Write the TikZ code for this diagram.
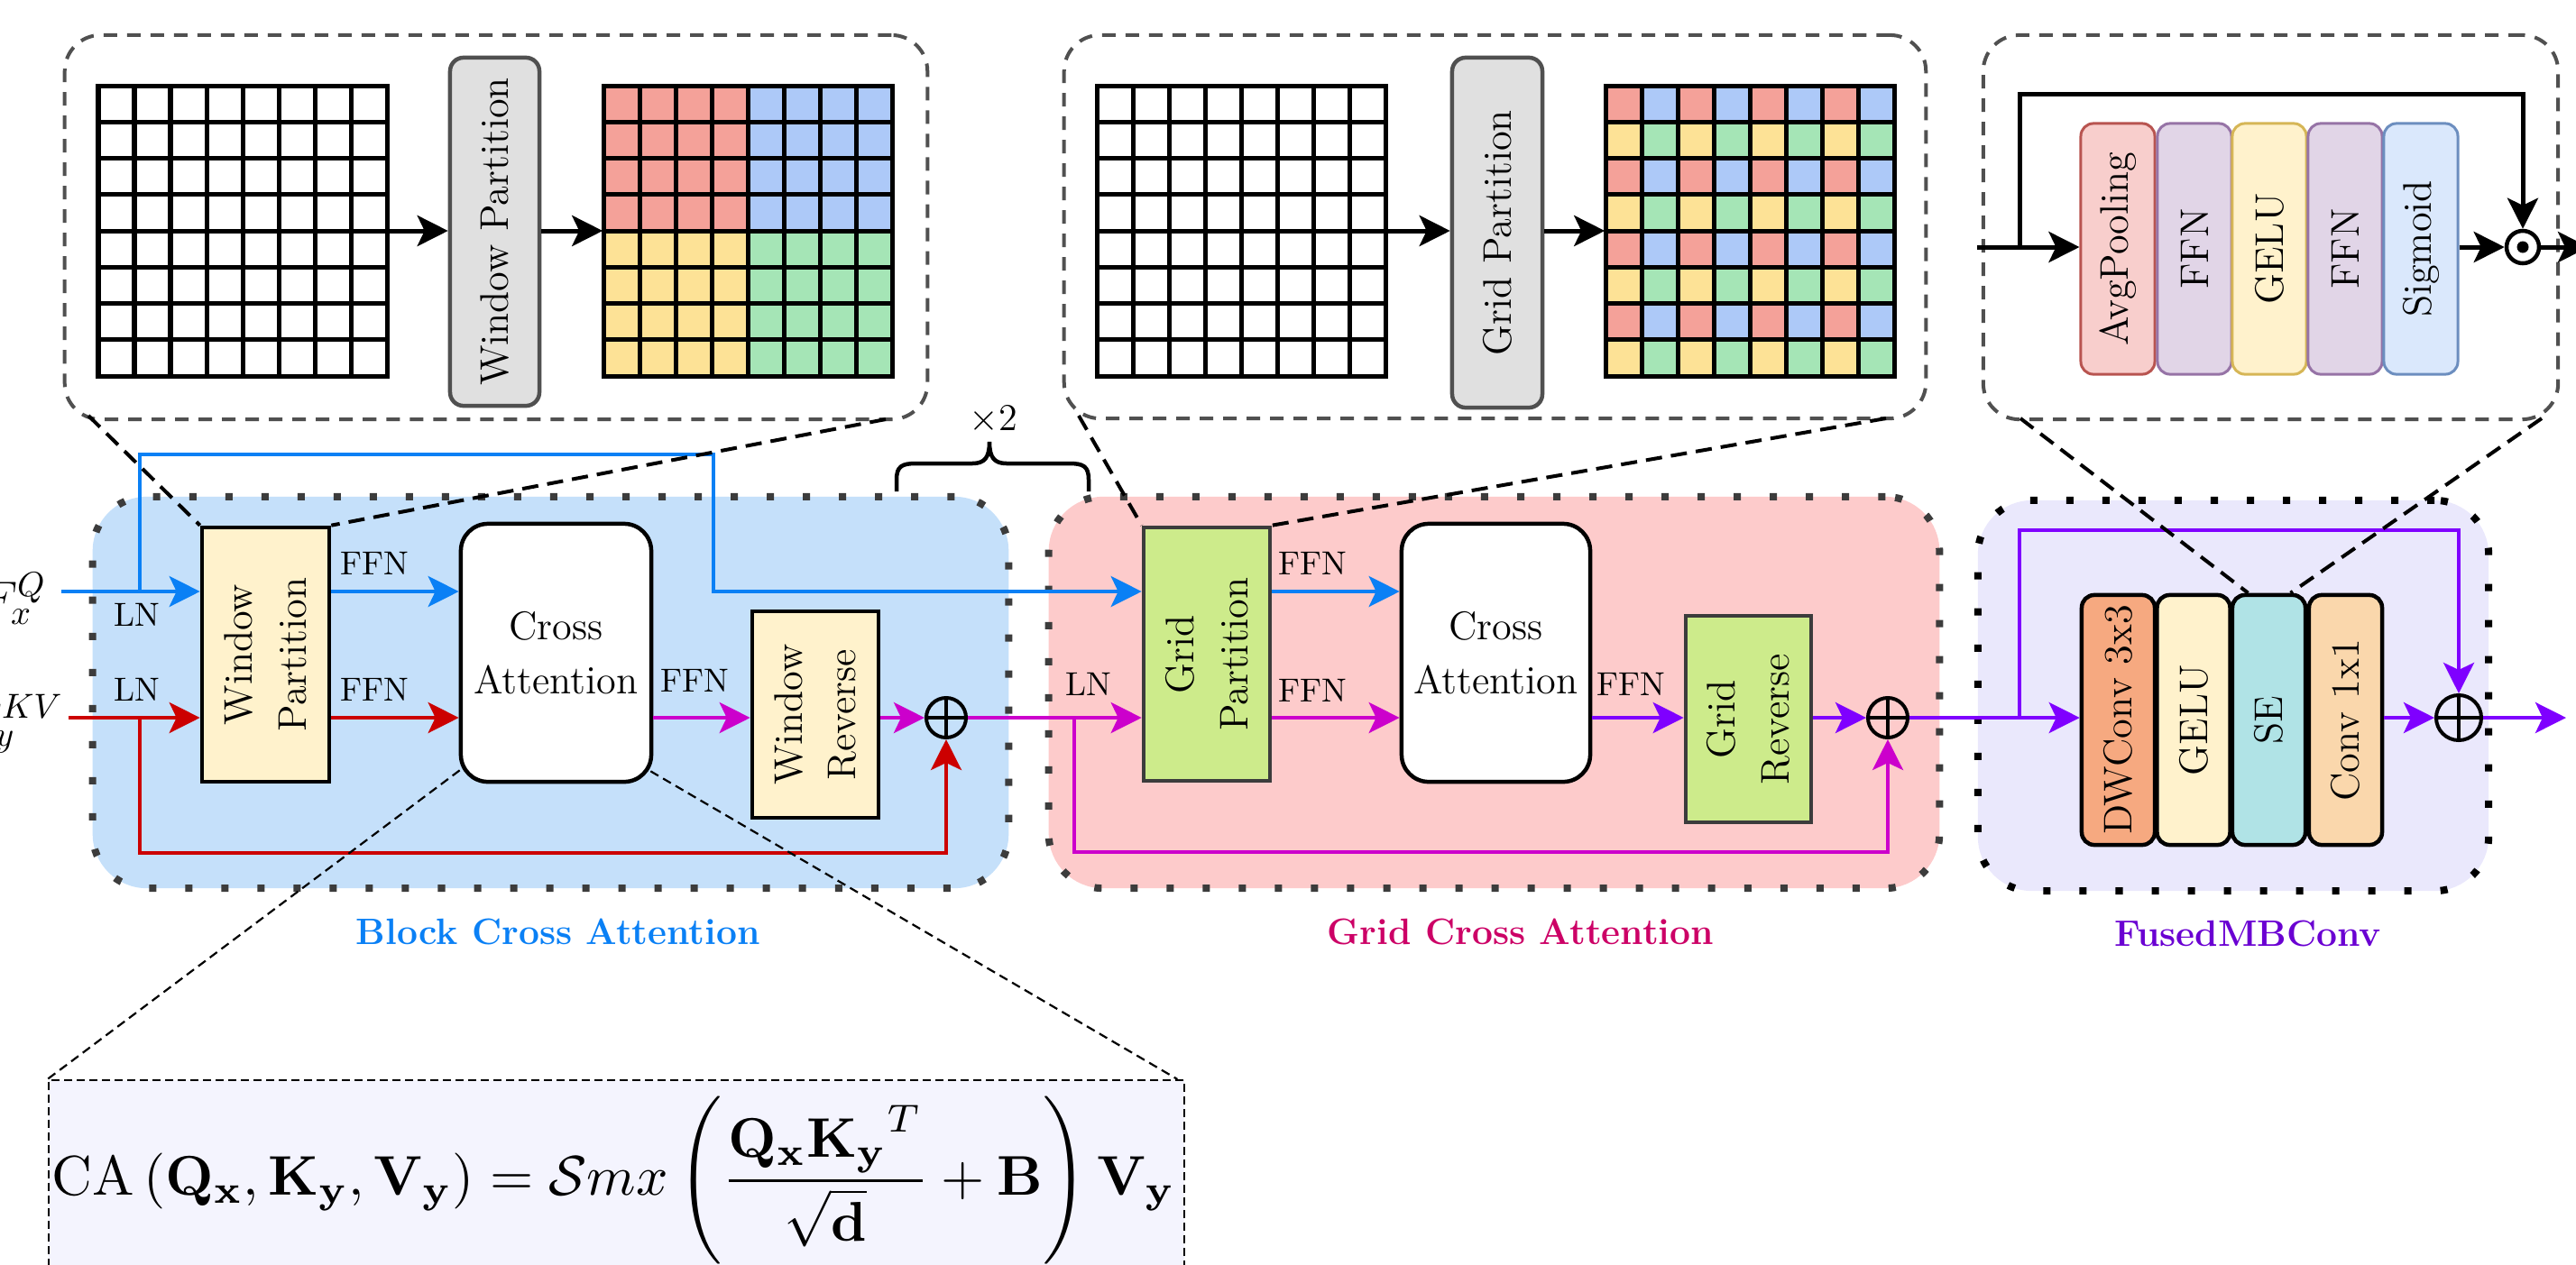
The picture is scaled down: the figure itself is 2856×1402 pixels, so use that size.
\documentclass[tikz,border=0pt]{standalone}
\usepackage{graphicx}
\usetikzlibrary{arrows.meta,calc}

% arrow and text colours
\definecolor{blueA}{RGB}{10,128,245}
\definecolor{redA}{RGB}{204,0,0}
\definecolor{magA}{RGB}{204,0,204}
\definecolor{vioA}{RGB}{127,0,255}
\definecolor{gcaText}{RGB}{204,0,102}
\definecolor{fmbText}{RGB}{106,0,210}
% region backgrounds
\definecolor{bcaBg}{RGB}{197,224,250}
\definecolor{gcaBg}{RGB}{253,203,203}
\definecolor{fmbBg}{RGB}{234,232,252}
\definecolor{eqBg}{RGB}{244,244,254}
\definecolor{dotGray}{RGB}{60,60,60}
\definecolor{zoomGray}{RGB}{80,80,80}
% block fills
\definecolor{sand}{RGB}{255,242,204}
\definecolor{lime}{RGB}{205,235,139}
\definecolor{boxGray}{RGB}{224,224,224}
\definecolor{dwFill}{RGB}{246,169,128}
\definecolor{seFill}{RGB}{176,227,230}
\definecolor{c11Fill}{RGB}{250,215,172}
\definecolor{apFill}{RGB}{248,206,204}
\definecolor{apLine}{RGB}{184,84,80}
\definecolor{ffnFill}{RGB}{225,213,231}
\definecolor{ffnLine}{RGB}{150,115,166}
\definecolor{geFill}{RGB}{255,242,204}
\definecolor{geLine}{RGB}{214,182,86}
\definecolor{sgFill}{RGB}{218,232,252}
\definecolor{sgLine}{RGB}{108,142,191}
% token cells
\definecolor{cell0}{RGB}{244,161,153}
\definecolor{cell1}{RGB}{173,201,248}
\definecolor{cell2}{RGB}{253,226,150}
\definecolor{cell3}{RGB}{165,229,182}

\begin{document}
\begin{tikzpicture}[x=0.01cm,y=-0.01cm,
  region/.style={line width=0.08cm, dash pattern=on 0.08cm off 0.32cm,
                 rounded corners=0.6cm, inner sep=0},
  zoombox/.style={draw=zoomGray, line width=0.04cm,
                  dash pattern=on 0.15cm off 0.11cm, rounded corners=0.4cm, inner sep=0},
  zoomline/.style={black, line width=0.04cm, dash pattern=on 0.18cm off 0.1cm},
  thinzoom/.style={black, line width=0.022cm, dash pattern=on 0.1cm off 0.06cm},
  conn/.style={line width=0.04cm, -{Stealth[length=0.34cm,width=0.34cm,inset=0.08cm]}},
  wire/.style={line width=0.04cm},
  block/.style={draw, line width=0.045cm, inner sep=0},
  seblk/.style={draw, line width=0.03cm, rounded corners=0.14cm, inner sep=0,
                minimum width=0.82cm, minimum height=2.78cm},
  fmblk/.style={draw, line width=0.045cm, rounded corners=0.14cm, inner sep=0,
                minimum width=0.81cm, minimum height=2.77cm},
  lab/.style={font=\fontsize{12.6}{17}\selectfont, align=center, inner sep=0},
  small/.style={font=\fontsize{10.5}{12}\selectfont, inner sep=0},
  gridln/.style={black, line width=0.05cm},
  plus/.style={circle, draw, line width=0.04cm, minimum size=0.44cm, inner sep=0},
  title/.style={font=\fontsize{11.6}{14}\selectfont\bfseries, inner sep=0}]

\useasboundingbox (0,0) rectangle (2856,1402);

% ---------- background regions ----------
\node[region, fill=bcaBg, draw=dotGray, minimum width=10.15cm, minimum height=4.34cm] (bca) at (610.5,768) {};
\node[region, fill=gcaBg, draw=dotGray, minimum width=9.87cm, minimum height=4.34cm] (gca) at (1656.5,768) {};
\node[region, fill=fmbBg, draw=black, minimum width=5.66cm, minimum height=4.33cm] (fmb) at (2476,771.5) {};

\node[title, text=blueA] (bcaT) at (619,1033) {Block Cross Attention};
\node[title, text=gcaText] (gcaT) at (1686,1033) {Grid Cross Attention};
\node[title, text=fmbText] (fmbT) at (2492,1035) {FusedMBConv};

% ---------- zoom-in panels ----------
\node[zoombox, minimum width=9.56cm, minimum height=4.26cm] (boxA) at (550,252) {};
\node[zoombox, minimum width=9.55cm, minimum height=4.25cm] (boxB) at (1657.5,251.5) {};
\node[zoombox, minimum width=6.37cm, minimum height=4.26cm] (boxC) at (2517.5,252) {};

% token grids
\node[inner sep=0, minimum width=3.19cm, minimum height=3.22cm] (gA) at (268.5,256) {};
\node[inner sep=0, minimum width=3.20cm, minimum height=3.22cm] (gB) at (829,256) {};
\node[inner sep=0, minimum width=3.20cm, minimum height=3.22cm] (gC) at (1376,256) {};
\node[inner sep=0, minimum width=3.20cm, minimum height=3.22cm] (gD) at (1940,256) {};

\foreach \i in {0,...,7}{
  \foreach \j in {0,...,7}{
    \pgfmathtruncatemacro\q{(\j>3)*2+(\i>3)}
    \fill[cell\q] (669+\i*40,95+\j*40.25) rectangle ++(40,40.25);
    \pgfmathtruncatemacro\r{mod(\j,2)*2+mod(\i,2)}
    \fill[cell\r] (1780+\i*40,95+\j*40.25) rectangle ++(40,40.25);
  }}
\foreach \x in {109,669,1216,1780}{
  \draw[gridln] (\x,95) rectangle ++(320,322);
  \foreach \k in {1,...,7}{
    \draw[gridln] (\x+\k*40,95) -- ++(0,322);
    \draw[gridln] (\x,95+\k*40.25) -- ++(320,0);
  }}

\node[block, draw=zoomGray, fill=boxGray, rounded corners=0.15cm, minimum width=0.99cm, minimum height=3.86cm] (grayA) at (548.5,257) {};
\node[lab, rotate=90] (grayAT) at (grayA) {Window Partition};
\node[block, draw=zoomGray, fill=boxGray, rounded corners=0.15cm, minimum width=1.00cm, minimum height=3.88cm] (grayB) at (1660,258) {};
\node[lab, rotate=90] (grayBT) at (grayB) {Grid Partition};

\draw[conn, line width=0.05cm] (gA.east) -- (grayA.west |- gA.east);
\draw[conn, line width=0.05cm] (grayA.east |- gB.west) -- (gB.west);
\draw[conn, line width=0.05cm] (gC.east) -- (grayB.west |- gC.east);
\draw[conn, line width=0.05cm] (grayB.east |- gD.west) -- (gD.west);

% squeeze-and-excitation panel
\node[seblk, fill=apFill, draw=apLine] (ap) at (2348,276) {};
\node[seblk, fill=ffnFill, draw=ffnLine] (f1) at (2433,276) {};
\node[seblk, fill=geFill, draw=geLine] (g1) at (2516,276) {};
\node[seblk, fill=ffnFill, draw=ffnLine] (f2) at (2600,276) {};
\node[seblk, fill=sgFill, draw=sgLine] (sg) at (2684,276) {};
\node[lab, rotate=90] (apT) at (ap) {AvgPooling};
\node[lab, rotate=90] (f1T) at (f1) {FFN};
\node[lab, rotate=90] (g1T) at (g1) {GELU};
\node[lab, rotate=90] (f2T) at (f2) {FFN};
\node[lab, rotate=90] (sgT) at (sg) {Sigmoid};
\node[circle, draw, line width=0.045cm, minimum size=0.36cm, inner sep=0] (od) at (2797,274) {};
\fill (od) circle (0.065cm);

\coordinate (sein) at (2192,274);
\coordinate (sebr) at (2239,274);
\coordinate (setop) at (2500,104);
\coordinate (seout) at (2870,274);
\draw[wire, line width=0.05cm] (sein) -- (sebr);
\draw[conn, line width=0.05cm] (sebr) -- (ap.west |- sebr);
\draw[conn, line width=0.05cm] (sebr) |- (setop) -| (od.north);
\draw[conn, line width=0.05cm] (sg.east |- od) -- (od.west);
\draw[conn, line width=0.05cm] (od.east) -- (seout);

% ---------- Block Cross Attention ----------
\node[block, fill=sand, minimum width=1.41cm, minimum height=2.82cm] (wp) at (294.5,726) {};
\node[lab, rotate=90] (wpT) at (wp) {Window\\Partition};
\node[block, fill=white, rounded corners=0.3cm, minimum width=2.11cm, minimum height=2.86cm] (ca1) at (616.5,724) {};
\node[lab] (ca1T) at (ca1) {Cross\\Attention};
\node[block, fill=sand, minimum width=1.40cm, minimum height=2.29cm] (wr) at (904,792.5) {};
\node[lab, rotate=90] (wrT) at (wr) {Window\\Reverse};
\node[plus] (p1) at (1049,796) {};
\draw[line width=0.04cm] (p1.north) -- (p1.south) (p1.west) -- (p1.east);

% ---------- Grid Cross Attention ----------
\node[block, draw=dotGray, fill=lime, minimum width=1.40cm, minimum height=2.81cm] (gp) at (1338,725.5) {};
\node[lab, rotate=90] (gpT) at (gp) {Grid\\Partition};
\node[block, fill=white, rounded corners=0.3cm, minimum width=2.09cm, minimum height=2.86cm] (ca2) at (1658.5,724) {};
\node[lab] (ca2T) at (ca2) {Cross\\Attention};
\node[block, draw=dotGray, fill=lime, minimum width=1.39cm, minimum height=2.29cm] (gr) at (1938.5,797.5) {};
\node[lab, rotate=90] (grT) at (gr) {Grid\\Reverse};
\node[plus] (p2) at (2093,796) {};
\draw[line width=0.04cm] (p2.north) -- (p2.south) (p2.west) -- (p2.east);

% ---------- FusedMBConv ----------
\node[fmblk, fill=dwFill] (dw) at (2348.5,798.5) {};
\node[fmblk, fill=sand] (ge2) at (2432,798.5) {};
\node[fmblk, fill=seFill] (se) at (2515.5,798.5) {};
\node[fmblk, fill=c11Fill] (c11) at (2600.5,798.5) {};
\node[lab, rotate=90] (dwT) at (dw) {DWConv 3x3};
\node[lab, rotate=90] (ge2T) at (ge2) {GELU};
\node[lab, rotate=90] (seT) at (se) {SE};
\node[lab, rotate=90] (c11T) at (c11) {Conv 1x1};
\node[plus, minimum size=0.5cm] (p3) at (2726,796) {};
\draw[line width=0.04cm] (p3.north) -- (p3.south) (p3.west) -- (p3.east);

% ---------- inputs ----------
\node[anchor=base east, inner sep=0, font=\fontsize{15}{18}\selectfont] (fq) at (52,680) {$F_x^Q$};
\node[anchor=base east, inner sep=0, font=\fontsize{15}{18}\selectfont] (fkv) at (71,815) {$F_y^{KV}$};

\coordinate (qin) at (68,656);
\coordinate (kvin) at (76,796);
\coordinate (qbr) at (155,656);
\coordinate (kvbr) at (155,796);
\coordinate (qhop) at (791,504);
\coordinate (redlow) at (600,946);
\coordinate (mbr) at (1191,796);
\coordinate (maglow) at (1600,945);
\coordinate (vbr) at (2239,796);
\coordinate (vtop) at (2500,588);
\coordinate (fout) at (2845,796);

% query path
\draw[conn, blueA] (qin) -- (qin -| wp.west);
\draw[conn, blueA] (qbr) |- (qhop) |- (gp.west |- qin);
\draw[conn, blueA] (wp.east |- qin) -- (ca1.west |- qin);
\draw[conn, blueA] (gp.east |- qin) -- (ca2.west |- qin);
% key/value path
\draw[conn, redA] (kvin) -- (kvin -| wp.west);
\draw[conn, redA] (kvbr) |- (redlow) -| (p1.south);
\draw[conn, redA] (wp.east |- kvin) -- (ca1.west |- kvin);
% block output
\draw[conn, magA] (ca1.east |- p1) -- (wr.west |- p1);
\draw[conn, magA] (wr.east |- p1) -- (p1.west);
\draw[conn, magA] (p1.east) -- (gp.west |- p1);
\draw[conn, magA] (mbr) |- (maglow) -| (p2.south);
\draw[conn, magA] (gp.east |- p1) -- (ca2.west |- p1);
% grid output
\draw[conn, vioA] (ca2.east |- p2) -- (gr.west |- p2);
\draw[conn, vioA] (gr.east |- p2) -- (p2.west);
\draw[conn, vioA] (p2.east) -- (dw.west |- p2);
\draw[conn, vioA] (vbr) |- (vtop) -| (p3.north);
\draw[conn, vioA] (c11.east |- p3) -- (p3.west);
\draw[conn, vioA] (p3.east) -- (fout);

% edge labels
\node[small] (ln1) at (152,682) {LN};
\node[small] (ln2) at (152,765) {LN};
\node[small] (ffn1) at (415,625) {FFN};
\node[small] (ffn2) at (415,765) {FFN};
\node[small] (ffn3) at (770,755) {FFN};
\node[small] (ln3) at (1207,759) {LN};
\node[small] (ffn4) at (1455,625) {FFN};
\node[small] (ffn5) at (1455,766) {FFN};
\node[small] (ffn6) at (1808,759) {FFN};

% repetition brace
\node[lab] (rep) at (1101,466) {$\times 2$};
\draw[line width=0.045cm] (994,545) -- (994,532) .. controls (994,517) and (1000,514) .. (1016,514)
  -- (1078,514) .. controls (1092,514) and (1097,507) .. (1097,490)
  .. controls (1097,507) and (1102,514) .. (1116,514) -- (1185,514)
  .. controls (1201,514) and (1207,517) .. (1207,532) -- (1207,545);

% zoom guide lines
\coordinate (zA1) at (98,461);
\coordinate (zA2) at (982,465);
\coordinate (zB1) at (1196,461);
\coordinate (zB2) at (2091,464);
\coordinate (zC1) at (2240,464);
\coordinate (zC2) at (2818,464);
\draw[zoomline] (zA1) -- (wp.north west);
\draw[zoomline] (zA2) -- (wp.north east);
\draw[zoomline] (zB1) -- (gp.north west);
\draw[zoomline] (zB2) -- (gp.north east);
\draw[zoomline] (zC1) -- ($(se.north)+(-23,0)$);
\draw[zoomline] (zC2) -- ($(se.north)+(24,0)$);

% attention formula
\node[draw, fill=eqBg, line width=0.02cm, dash pattern=on 0.09cm off 0.05cm, inner sep=0,
      minimum width=12.59cm, minimum height=2.24cm] (fbox) at (683.5,1310) {};
\draw[thinzoom] ($(ca1.south west)+(1,-15)$) -- (fbox.north west);
\draw[thinzoom] ($(ca1.south east)+(-3,-14)$) -- ($(fbox.north east)+(-9,0)$);
\node[anchor=base west, inner sep=0] (eq) at (57,1325) {\resizebox{12.45cm}{!}{$\displaystyle
  \mathrm{CA}\left(\mathbf{Q_x},\mathbf{K_y},\mathbf{V_y}\right)=\mathcal{S}mx\left(\frac{\mathbf{Q_x}{\mathbf{K_y}}^T}{\sqrt{\mathbf{d}}}+\mathbf{B}\right)\mathbf{V_y}$}};
\end{tikzpicture}
\end{document}
